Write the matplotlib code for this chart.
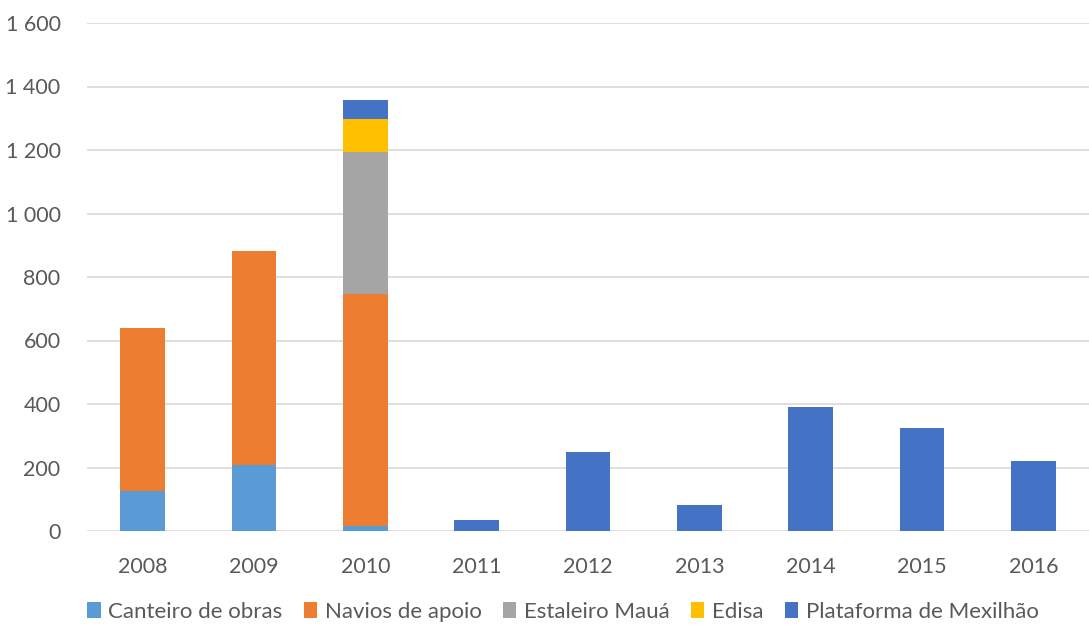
import matplotlib.pyplot as plt
import numpy as np

anos = ["2008", "2009", "2010", "2011", "2012", "2013", "2014", "2015", "2016"]
canteiro = [125, 207, 15, 0, 0, 0, 0, 0, 0]
navios = [513, 675, 730, 0, 0, 0, 0, 0, 0]
estaleiro = [0, 0, 450, 0, 0, 0, 0, 0, 0]
edisa = [0, 0, 103, 0, 0, 0, 0, 0, 0]
plataforma = [0, 0, 60, 35, 250, 82, 390, 325, 221]

series = [
    ("Canteiro de obras", canteiro, "#5b9bd5"),
    ("Navios de apoio", navios, "#ed7d31"),
    ("Estaleiro Mauá", estaleiro, "#a5a5a5"),
    ("Edisa", edisa, "#ffc000"),
    ("Plataforma de Mexilhão", plataforma, "#4472c4"),
]

plt.rcParams["font.family"] = ["Lato", "DejaVu Sans"]

fig = plt.figure(figsize=(10.89, 6.26), dpi=100)
ax = fig.add_axes([87 / 1089, 1 - 531 / 626, 1002 / 1089, 508 / 626])

x = np.arange(len(anos))
base = np.zeros(len(anos))
for nome, vals, cor in series:
    ax.bar(x, vals, 0.4, bottom=base, color=cor, label=nome, zorder=3)
    base += np.array(vals)

ax.set_xlim(-0.5, len(anos) - 0.5)
ax.set_ylim(0, 1600)
ax.set_yticks(range(0, 1601, 200))
ax.set_yticklabels([f"{v:,}".replace(",", " ") for v in range(0, 1601, 200)])
ax.set_xticks(x)
ax.set_xticklabels(anos)
ax.grid(axis="y", color="#d9d9d9", linewidth=1.2, zorder=0)
for s in ax.spines.values():
    s.set_visible(False)
ax.tick_params(length=0, labelsize=15.5, labelcolor="#595959")
ax.tick_params(axis="x", pad=19)
ax.tick_params(axis="y", pad=19)

fig.legend(loc="center", bbox_to_anchor=(0.517, 1 - 612 / 626), ncol=5, frameon=False,
           fontsize=16, labelcolor="#595959", handlelength=0.6, handleheight=0.75,
           handletextpad=0.35, columnspacing=0.95)

fig.savefig("out.png", dpi=100)
